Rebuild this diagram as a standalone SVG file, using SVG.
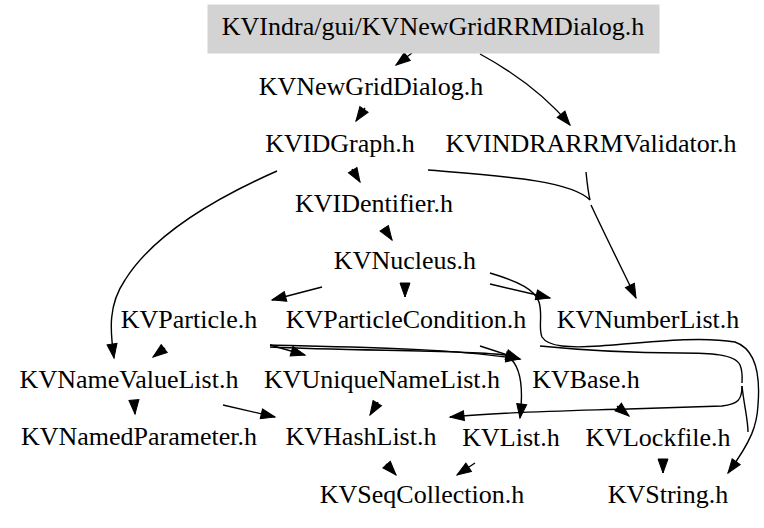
<svg xmlns="http://www.w3.org/2000/svg" width="764" height="528" viewBox="0 0 764 528">
<style>
.t text{font-family:"Liberation Serif","Times New Roman",serif;font-size:26px;fill:#000;text-anchor:middle}
.e{fill:none;stroke:#000;stroke-width:1.4;marker-end:url(#ah)}
.n{fill:none;stroke:#000;stroke-width:1.4}
</style>
<defs>
<marker id="ah" markerUnits="userSpaceOnUse" markerWidth="15" markerHeight="11" refX="14" refY="5" orient="auto" overflow="visible">
<path d="M0,0 L14,5 L0,10 z" fill="#000" stroke="#000" stroke-width="1"/>
</marker>
</defs>
<rect width="764" height="528" fill="#fff"/>
<g id="edges">
<path class="e" d="M412,53 L396,65"/>
<path class="e" d="M480,54 C515,73 545,95 570,125"/>
<path class="e" d="M365,108 L356,121"/>
<path class="e" d="M352,169 L360,182"/>
<path class="e" d="M277,171 C200,205 150,240 125,280 C108,305 110,330 114,358"/>
<path class="n" d="M428,170 C500,176 570,180 590,200"/>
<path class="n" d="M586,172 C587,182 588,192 590,200"/>
<path class="e" d="M591,205 C605,235 620,265 636,298"/>
<path class="e" d="M384,228 L392,240"/>
<path class="e" d="M322,287 L272,300"/>
<path class="e" d="M405,284 L405,297"/>
<path class="e" d="M490,284 L550,298"/>
<path class="e" d="M490,273 C520,282 535,290 539,302 C543,315 538,328 542,337 C548,347 570,348 600,346 C650,342 700,336 735,342 C758,350 760,380 758,405 C757,425 752,440 728,473"/>
<path class="e" d="M165,348 L153,357"/>
<path class="e" d="M270,345 L305,355"/>
<path class="e" d="M270,345 C350,347 450,348 520,359"/>
<path class="e" d="M270,347 C350,351 470,350 505,355 C520,362 524,385 520,418"/>
<path class="e" d="M480,346 L520,359"/>
<path class="n" d="M540,346 C580,350 620,353 680,353 C710,353 735,354 740,365 C743,372 742,378 742,383"/>
<path class="e" d="M742,386 C742,400 738,404 722,406 L628,409 C560,411 500,412 450,417"/>
<path class="e" d="M617,406 L629,416"/>
<path class="n" d="M742,386 C744,405 748,420 748,432"/>
<path class="e" d="M134,401 L135,414"/>
<path class="e" d="M223,405 L275,417"/>
<path class="e" d="M378,402 L370,415"/>
<path class="e" d="M386,464 L396,475"/>
<path class="e" d="M475,463 L457,475"/>
<path class="e" d="M663,460 L663,473"/>
</g>
<g class="t">
<g id="n_root"><rect x="208" y="5" width="451" height="48" fill="#d3d3d3" stroke="#d3d3d3"/><text x="433" y="35">KVIndra/gui/KVNewGridRRMDialog.h</text></g>
<g id="n_newgrid"><text x="371" y="95">KVNewGridDialog.h</text></g>
<g id="n_idgraph"><text x="340" y="152">KVIDGraph.h</text></g>
<g id="n_validator"><text x="591" y="152">KVINDRARRMValidator.h</text></g>
<g id="n_identifier"><text x="374" y="212">KVIDentifier.h</text></g>
<g id="n_nucleus"><text x="405" y="269">KVNucleus.h</text></g>
<g id="n_particle"><text x="189" y="328">KVParticle.h</text></g>
<g id="n_partcond"><text x="406" y="328">KVParticleCondition.h</text></g>
<g id="n_numberlist"><text x="648" y="328">KVNumberList.h</text></g>
<g id="n_namevalue"><text x="129" y="388">KVNameValueList.h</text></g>
<g id="n_unique"><text x="382" y="388">KVUniqueNameList.h</text></g>
<g id="n_base"><text x="586" y="388">KVBase.h</text></g>
<g id="n_namedparam"><text x="139" y="445">KVNamedParameter.h</text></g>
<g id="n_hashlist"><text x="361" y="445">KVHashList.h</text></g>
<g id="n_list"><text x="511" y="446">KVList.h</text></g>
<g id="n_lockfile"><text x="658" y="446">KVLockfile.h</text></g>
<g id="n_seqcoll"><text x="422" y="503">KVSeqCollection.h</text></g>
<g id="n_string"><text x="668" y="503">KVString.h</text></g>
</g>
</svg>
